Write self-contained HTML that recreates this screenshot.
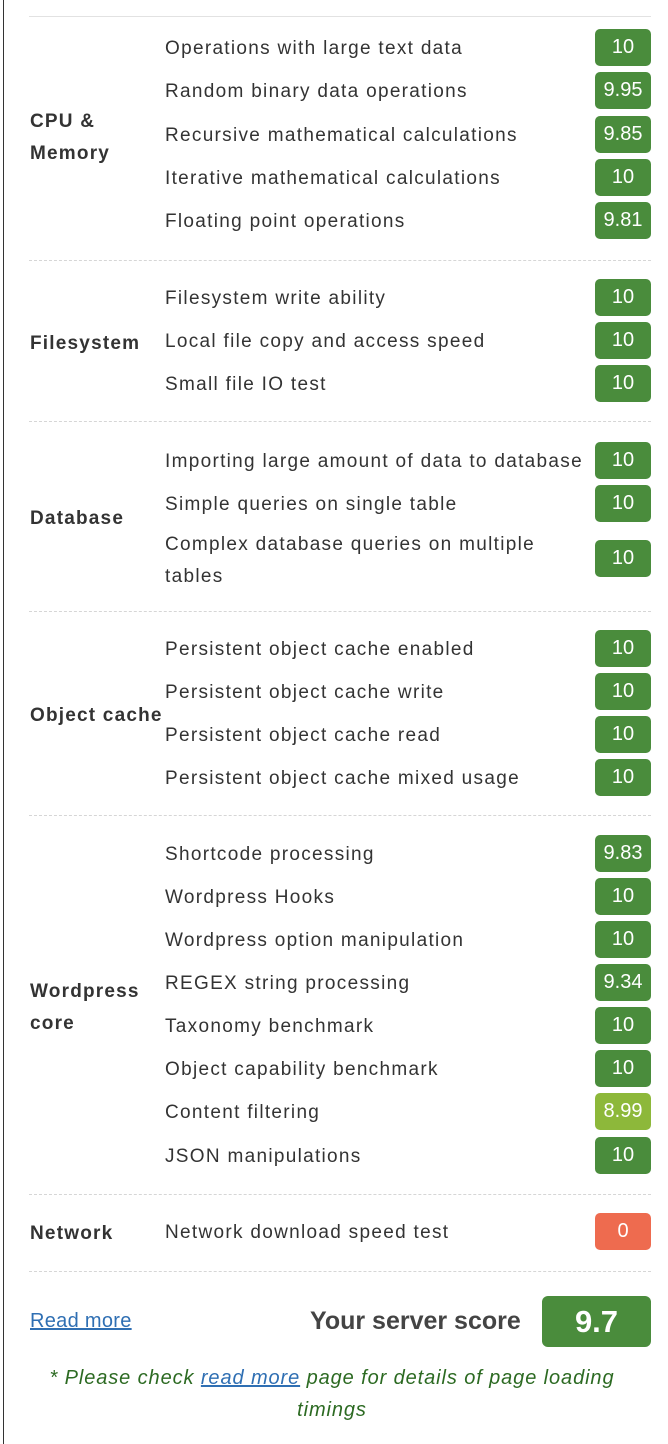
<!DOCTYPE html>
<html><head><meta charset="utf-8"><style>
body{margin:0;width:668px;height:1444px;background:#fff;position:relative;overflow:hidden;font-family:"Liberation Sans",sans-serif;color:#333}
.lb{position:absolute;left:3px;top:0;width:1px;height:1444px;background:#333}
.sep{position:absolute;left:29px;width:622px;border-top:1px dashed #d6d6d6;height:0}
.t{position:absolute;left:165px;font-size:19px;line-height:22px;letter-spacing:1.3px;transform:translateY(-9px);white-space:nowrap}
.g{position:absolute;left:30px;font-size:19px;font-weight:bold;line-height:32px;letter-spacing:1.2px}
.b{position:absolute;left:595px;width:56px;height:37px;border-radius:5px;background:#4a8c3c;color:#fff;font-size:20px;line-height:37px;text-align:center;transform:translateY(-18px)}
</style></head><body>
<div class="lb"></div>
<div style="position:absolute;left:29px;top:16px;width:622px;height:1px;background:#e2e2e2"></div>

<div class="g" style="top:106px">CPU &amp;<br>Memory</div>
<div class="t" style="top:47px">Operations with large text data</div><div class="b" style="top:47px">10</div>
<div class="t" style="top:90px">Random binary data operations</div><div class="b" style="top:90px">9.95</div>
<div class="t" style="top:134px">Recursive mathematical calculations</div><div class="b" style="top:134px">9.85</div>
<div class="t" style="top:177px">Iterative mathematical calculations</div><div class="b" style="top:177px">10</div>
<div class="t" style="top:220px">Floating point operations</div><div class="b" style="top:220px">9.81</div>
<div class="sep" style="top:260px"></div>

<div class="g" style="top:328px">Filesystem</div>
<div class="t" style="top:297px">Filesystem write ability</div><div class="b" style="top:297px">10</div>
<div class="t" style="top:340px">Local file copy and access speed</div><div class="b" style="top:340px">10</div>
<div class="t" style="top:383px">Small file IO test</div><div class="b" style="top:383px">10</div>
<div class="sep" style="top:421px"></div>

<div class="g" style="top:503px">Database</div>
<div class="t" style="top:460px">Importing large amount of data to database</div><div class="b" style="top:460px">10</div>
<div class="t" style="top:503px">Simple queries on single table</div><div class="b" style="top:503px">10</div>
<div class="t" style="top:561px;line-height:32px;transform:translateY(-32px)">Complex database queries on multiple<br>tables</div><div class="b" style="top:558px">10</div>
<div class="sep" style="top:611px"></div>

<div class="g" style="top:700px">Object cache</div>
<div class="t" style="top:648px">Persistent object cache enabled</div><div class="b" style="top:648px">10</div>
<div class="t" style="top:691px">Persistent object cache write</div><div class="b" style="top:691px">10</div>
<div class="t" style="top:734px">Persistent object cache read</div><div class="b" style="top:734px">10</div>
<div class="t" style="top:777px">Persistent object cache mixed usage</div><div class="b" style="top:777px">10</div>
<div class="sep" style="top:815px"></div>

<div class="g" style="top:976px">Wordpress<br>core</div>
<div class="t" style="top:853px">Shortcode processing</div><div class="b" style="top:853px">9.83</div>
<div class="t" style="top:896px">Wordpress Hooks</div><div class="b" style="top:896px">10</div>
<div class="t" style="top:939px">Wordpress option manipulation</div><div class="b" style="top:939px">10</div>
<div class="t" style="top:982px">REGEX string processing</div><div class="b" style="top:982px">9.34</div>
<div class="t" style="top:1025px">Taxonomy benchmark</div><div class="b" style="top:1025px">10</div>
<div class="t" style="top:1068px">Object capability benchmark</div><div class="b" style="top:1068px">10</div>
<div class="t" style="top:1111px">Content filtering</div><div class="b" style="top:1111px;background:#8db83a">8.99</div>
<div class="t" style="top:1155px">JSON manipulations</div><div class="b" style="top:1155px">10</div>
<div class="sep" style="top:1194px"></div>

<div class="g" style="top:1218px">Network</div>
<div class="t" style="top:1231px">Network download speed test</div><div class="b" style="top:1231px;background:#ee6b4f">0</div>
<div class="sep" style="top:1271px"></div>

<div style="position:absolute;left:30px;top:1310px;font-size:20px;letter-spacing:0.3px;color:#2f6fb3;text-decoration:underline">Read more</div>
<div style="position:absolute;left:310px;top:1307px;font-size:25px;font-weight:bold;color:#444">Your server score</div>
<div style="position:absolute;left:542px;top:1296px;width:109px;height:51px;border-radius:6px;background:#4a8c3c;color:#fff;font-size:31px;font-weight:bold;line-height:51px;text-align:center">9.7</div>
<div style="position:absolute;left:40px;top:1362px;width:584px;text-align:center;font-size:20px;line-height:32px;letter-spacing:0.9px;font-style:italic;color:#2c6a22">* Please check <span style="color:#2f6fb3;text-decoration:underline">read more</span> page for details of page loading timings</div>
</body></html>
